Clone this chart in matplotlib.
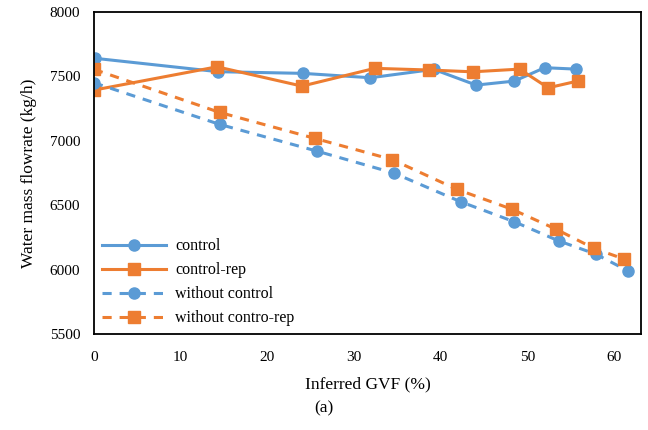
import matplotlib
matplotlib.use('Agg')
import matplotlib.pyplot as plt

plt.rcParams['font.family'] = ['Liberation Serif', 'DejaVu Serif']

# 데이터
x_control = [0.1, 14.3, 24.1, 31.9, 39.2, 44.1, 48.5, 52.0, 55.6]
y_control = [7641, 7537, 7524, 7490, 7555, 7433, 7464, 7568, 7557]

x_control_rep = [0, 14.2, 24.0, 32.4, 38.7, 43.7, 49.1, 52.4, 55.8]
y_control_rep = [7394, 7575, 7425, 7563, 7550, 7536, 7557, 7412, 7464]

x_without = [0, 14.5, 25.7, 34.6, 42.4, 48.5, 53.6, 57.9, 61.6]
y_without = [7451, 7128, 6921, 6750, 6525, 6372, 6224, 6121, 5991]

x_without_rep = [0, 14.5, 25.5, 34.4, 41.9, 48.2, 53.3, 57.7, 61.2]
y_without_rep = [7555, 7221, 7019, 6855, 6623, 6470, 6315, 6165, 6082]

blue = '#5B9BD5'
orange = '#ED7D31'

fig = plt.figure(figsize=(6.48, 4.30), dpi=100)
ax = fig.add_axes([0.145, 0.223, 0.844, 0.749])

lw = 2.2
ax.plot(x_control, y_control, color=blue, lw=lw, marker='o', ms=8, label='control')
ax.plot(x_control_rep, y_control_rep, color=orange, lw=lw, marker='s', ms=8, label='control-rep')
ax.plot(x_without, y_without, color=blue, lw=lw, marker='o', ms=8,
        dashes=(3, 2.6), label='without control')
ax.plot(x_without_rep, y_without_rep, color=orange, lw=lw, marker='s', ms=8,
        dashes=(3, 2.6), label='without contro-rep')

ax.set_xlim(0, 63.1)
ax.set_ylim(5500, 8000)
ax.set_xticks(range(0, 61, 10))
ax.set_yticks(range(5500, 8001, 500))
ax.tick_params(axis='y', length=0, labelsize=11, pad=10)
ax.tick_params(axis='x', length=0, labelsize=11, pad=12)

for s in ax.spines.values():
    s.set_linewidth(1.3)
    s.set_color('black')

ax.set_xlabel('Inferred GVF (%)', fontsize=12.5, labelpad=9)
ax.set_ylabel('Water mass flowrate (kg/h)', fontsize=12.5, labelpad=9)
fig.text(0.5, 0.051, '(a)', ha='center', va='center', fontsize=12.5)

ax.legend(loc='lower left', frameon=False, fontsize=11.5, handlelength=4,
          handletextpad=0.6, labelspacing=0.5, borderaxespad=0.1,
          bbox_to_anchor=(0.0, 0.0))

fig.savefig('out.png', dpi=100)
